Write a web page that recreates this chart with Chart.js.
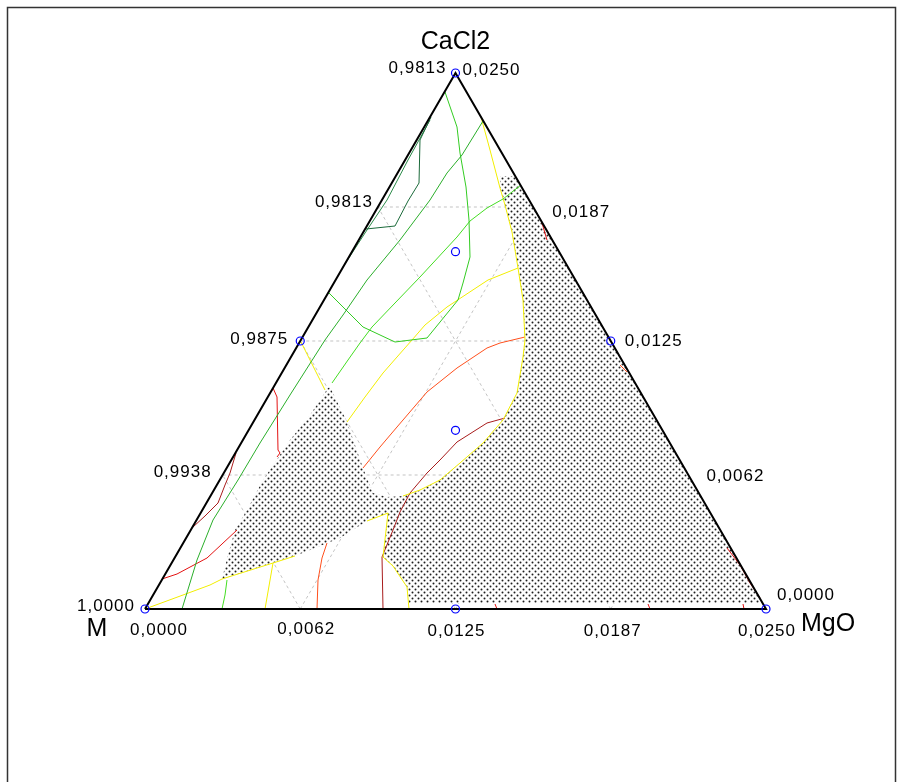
<!DOCTYPE html>
<html>
<head>
<meta charset="utf-8">
<title>M - MgO - CaCl2</title>
<script src="https://cdn.jsdelivr.net/npm/chart.js@4.4.1/dist/chart.umd.min.js"></script>
<style>
  html, body { margin: 0; padding: 0; background: #fff; }
  #wrap { width: 897px; height: 782px; }
</style>
</head>
<body>
<div id="wrap"><canvas id="chart" width="897" height="782"></canvas></div>
<script>
// diagram units: base M -> MgO is 621 long, apex CaCl2 sits 536 above it
const SIDE = 621, HEIGHT = 536;

const vertexNames = ['M', 'MgO', 'CaCl2'];
const tickFractions = [0, 0.25, 0.5, 0.75, 1];
const gridFractions = [0.25, 0.5, 0.75];
const leftTicks = ['1,0000', '0,9938', '0,9875', '0,9813', '0,9813'];
const rightTicks = ['0,0000', '0,0062', '0,0125', '0,0187', '0,0250'];
const bottomTicks = ['0,0000', '0,0062', '0,0125', '0,0187', '0,0250'];

// design points as [MgO share, CaCl2 share]
const designPoints = [[0, 0], [1, 0], [0, 1], [0, 0.5], [0.5, 0.5], [0.5, 0], [1 / 6, 2 / 3], [1 / 3, 1 / 3]];

// contour lines, [x, y] in diagram units
const darkGreenA = [[286,492],[275,469],[274,426],[263,408],[250,383],[221,380]];
const darkGreenB = [[285,489],[263,449],[242,409],[220,376],[198,342]];
const greenMain = [[338,488],[317,454],[302,436],[285,409],[255,369],[222,329],[198,294],[180,269],[145,214],[115,166],[93,129],[68,89],[52,49],[37,0]];
const limeLoop = [[300,517],[312,482],[315,456],[321,422],[324,389],[325,352],[318,326],[313,309],[282,271],[250,267],[218,282],[184,316]];
const limeDiag = [[376,424],[358,410],[342,401],[325,388],[312,372],[275,332],[250,306],[227,282],[215,266],[203,249],[187,226]];
const limeBase = [[82,29],[80,14],[77,0]];
const yellowBulb = [[336,492],[345,459],[355,421],[360,404],[367,377],[373,341],[378,309],[380,269],[378,252],[372,216],[358,189],[338,166],[315,146],[295,129],[275,119],[258,113]];
const yellowInner = [[373,341],[343,329],[302,302],[280,284],[267,269],[252,252],[238,236],[220,212],[202,187]];
const yellowLeft = [[156,267],[180,219]];
const yellowBase = [[0,0],[38,14],[65,24],[77,30],[128,46],[150,53]];
const yellowStub = [[128,46],[120,0]];
const yellowCentre = [[222,88],[243,96],[238,52],[248,43],[262,22],[264,0]];
const orangeInner = [[380,272],[355,266],[342,261],[312,241],[282,217],[252,182],[235,162],[218,141]];
const orangeBase = [[182,66],[177,51],[173,29],[172,0]];
const orangeEdge = [[475,244],[482,237]];
const redLeft = [[128,221],[132,212],[133,159],[135,156],[132,152]];
const redLow = [[17,30],[32,35],[62,51],[92,79]];
const redEdgeTop = [[397,386],[402,369]];
const redEdgeLow = [[582,61],[595,44],[605,26],[615,11]];
const redBaseTicks = [[[350,5],[352,0]], [[503,5],[505,0]], [[598,5],[599,0]]];
const darkRedLeft = [[91,156],[85,136],[80,124],[73,106],[60,93],[48,82]];
const darkRedInner = [[360,191],[342,186],[312,167],[295,149],[282,136],[265,116],[255,97],[248,79],[237,52],[238,0]];

// dotted (out of range) region outline
const shadedRegion = [[355,433],[370,433],[616,8],[616,6],[264,6],[262,22],[248,43],[238,52],[243,96],[222,88],[195,71],[150,53],[128,46],[77,30],[83,54],[90,79],[102,99],[118,129],[145,169],[165,194],[183,221],[185,222],[202,187],[218,141],[228,116],[242,112],[258,113],[275,119],[295,129],[315,146],[338,166],[358,189],[372,216],[378,252],[380,269],[378,309],[373,341],[367,377],[360,404],[355,421]];

function tern(b, c) {
    return { x: (b + c / 2) * SIDE, y: c * HEIGHT };
}

const toPoints = arr => arr.map(([x, y]) => ({ x, y }));

function lineSet(data, color, order, extra = {}) {
    return Object.assign({
        data: toPoints(data),
        borderColor: color,
        borderWidth: 1,
        pointRadius: 0,
        fill: false,
        tension: 0,
        order: order
    }, extra);
}

function makeDots() {
    const c = document.createElement('canvas');
    c.width = 6; c.height = 6;
    const g = c.getContext('2d');
    g.fillStyle = '#ffffff';
    g.fillRect(0, 0, 6, 6);
    g.fillStyle = '#1e1e1e';
    [[1.5, 1.5], [4.5, 4.5]].forEach(([x, y]) => {
        g.beginPath();
        g.arc(x, y, 1.0, 0, Math.PI * 2);
        g.fill();
    });
    return g.createPattern(c, 'repeat');
}

// grid: lines of constant CaCl2, MgO and M share
const gridSets = [];
gridFractions.forEach(f => {
    const pairs = [
        [tern(0, f), tern(1 - f, f)],
        [tern(f, 0), tern(f, 1 - f)],
        [tern(1 - f, 0), tern(0, 1 - f)]
    ];
    pairs.forEach(p => gridSets.push({
        data: p,
        borderColor: '#c4c4c4',
        borderWidth: 1,
        borderDash: [3, 3],
        pointRadius: 0,
        fill: false,
        order: 40
    }));
});

const outline = [tern(0, 0), tern(1, 0), tern(0, 1), tern(0, 0)];

const YELLOW = '#f2ee00', LIME = '#44dd22', GREEN = '#2aae2a', ORANGE = '#ff4f1c', RED = '#e31212', DARKRED = '#a81c1c';

const datasets = [
    ...gridSets,
    {
        data: toPoints(shadedRegion),
        borderWidth: 0,
        borderColor: 'rgba(0,0,0,0)',
        backgroundColor: makeDots(),
        pointRadius: 0,
        fill: 'shape',
        order: 30
    },
    lineSet(darkGreenA, '#1b6a3a', 10),
    lineSet(darkGreenB, '#2a8a48', 10),
    lineSet(greenMain, GREEN, 10),
    lineSet(limeLoop, '#33cc22', 10),
    lineSet(limeDiag, LIME, 10),
    lineSet(limeBase, LIME, 10),
    lineSet(yellowBulb, YELLOW, 10),
    lineSet(yellowInner, YELLOW, 10),
    lineSet(yellowLeft, YELLOW, 10),
    lineSet(yellowBase, YELLOW, 10),
    lineSet(yellowStub, YELLOW, 10),
    lineSet(yellowCentre, YELLOW, 10),
    lineSet(orangeInner, ORANGE, 10),
    lineSet(orangeBase, ORANGE, 10),
    lineSet(orangeEdge, ORANGE, 10),
    lineSet(redLeft, RED, 10),
    lineSet(redLow, RED, 10),
    lineSet(redEdgeTop, RED, 10),
    lineSet(redEdgeLow, RED, 10),
    ...redBaseTicks.map(t => lineSet(t, RED, 10)),
    lineSet(darkRedLeft, DARKRED, 10),
    lineSet(darkRedInner, DARKRED, 10),
    {
        data: outline,
        borderColor: '#000000',
        borderWidth: 2,
        pointRadius: 0,
        fill: false,
        order: 5
    },
    {
        data: designPoints.map(([b, c]) => tern(b, c)),
        showLine: false,
        pointRadius: 4,
        pointStyle: 'circle',
        pointBorderColor: '#0000ff',
        pointBackgroundColor: 'rgba(0,0,0,0)',
        pointBorderWidth: 1.2,
        order: 1
    }
];

// label placement, pixel offsets from the tick point
const leftOffsets = [[-10, -4], [-11, -4], [-12, -3], [-5, -6], [-9, -6]];
const rightOffsets = [[11, -15], [18, 0], [14, -1], [19, 4], [7, -4]];
const bottomOffsets = [[14, 20], [6, 19], [1, 21], [2, 21], [1, 21]];
const vertexOffsets = [[-48, 18], [62, 13], [0, -33]];

const labelPlugin = {
    id: 'ternaryLabels',
    afterDraw(chart) {
        const { ctx } = chart;
        const sx = chart.scales.x, sy = chart.scales.y;
        const at = p => [sx.getPixelForValue(p.x), sy.getPixelForValue(p.y)];
        ctx.save();

        // page frame
        ctx.strokeStyle = '#333';
        ctx.lineWidth = 1.5;
        ctx.beginPath();
        ctx.moveTo(7.5, 800);
        ctx.lineTo(7.5, 7.5);
        ctx.lineTo(895.5, 7.5);
        ctx.lineTo(895.5, 800);
        ctx.stroke();

        ctx.fillStyle = '#000';
        ctx.textBaseline = 'alphabetic';
        ctx.font = '17px "Liberation Sans", Arial, sans-serif';
        ctx.letterSpacing = '1px';
        const cap = 6;
        tickFractions.forEach((f, i) => {
            let [px, py] = at(tern(0, f));
            ctx.textAlign = 'right';
            ctx.fillText(leftTicks[i], px + leftOffsets[i][0], py + leftOffsets[i][1] + cap);

            [px, py] = at(tern(1 - f, f));
            ctx.textAlign = 'left';
            ctx.fillText(rightTicks[i], px + rightOffsets[i][0], py + rightOffsets[i][1] + cap);

            [px, py] = at(tern(f, 0));
            ctx.textAlign = 'center';
            ctx.fillText(bottomTicks[i], px + bottomOffsets[i][0], py + bottomOffsets[i][1] + cap);
        });

        ctx.font = '25px "Liberation Sans", Arial, sans-serif';
        ctx.letterSpacing = '0px';
        ctx.textAlign = 'center';
        const corners = [tern(0, 0), tern(1, 0), tern(0, 1)];
        corners.forEach((p, i) => {
            const [px, py] = at(p);
            ctx.fillText(vertexNames[i], px + vertexOffsets[i][0], py + vertexOffsets[i][1] + 9);
        });
        ctx.restore();
    }
};

new Chart(document.getElementById('chart'), {
    type: 'line',
    data: { datasets: datasets },
    options: {
        responsive: false,
        animation: false,
        events: [],
        layout: { padding: 0, autoPadding: false },
        plugins: {
            legend: { display: false },
            tooltip: { enabled: false },
            filler: { propagate: false }
        },
        scales: {
            x: { type: 'linear', min: -145, max: 752, display: false },
            y: { type: 'linear', min: -173, max: 609, display: false }
        }
    },
    plugins: [labelPlugin]
});
</script>
</body>
</html>
